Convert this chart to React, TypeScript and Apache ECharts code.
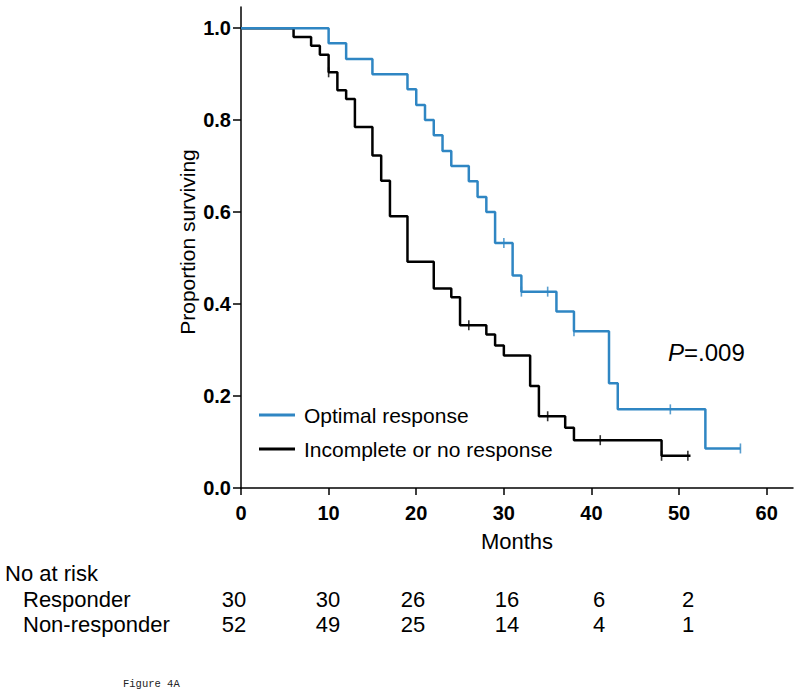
import React, { useEffect, useRef } from "react";
import * as echarts from "echarts";

// ---- Data ----
const optimalTimes = [0, 10, 12, 15, 19, 20, 21, 22, 23, 24, 26, 27, 28, 29, 31, 32, 36, 38, 42, 43, 53, 57];
const optimalSurv = [1, 0.967, 0.933, 0.9, 0.867, 0.833, 0.8, 0.767, 0.733, 0.7, 0.667, 0.633, 0.6, 0.533, 0.462, 0.427, 0.384, 0.341, 0.228, 0.171, 0.086, 0.086];
const optimalCensorTimes = [30, 32, 35, 38, 49, 57];
const optimalCensorSurv = [0.533, 0.427, 0.427, 0.341, 0.171, 0.086];

const incompleteTimes = [0, 6, 8, 9, 10, 11, 12, 13, 15, 16, 17, 19, 22, 24, 25, 28, 29, 30, 33, 34, 37, 38, 48, 51.3];
const incompleteSurv = [1, 0.981, 0.962, 0.942, 0.904, 0.865, 0.846, 0.785, 0.723, 0.668, 0.591, 0.492, 0.434, 0.415, 0.354, 0.334, 0.31, 0.288, 0.222, 0.156, 0.131, 0.104, 0.07, 0.07];
const incompleteCensorTimes = [10, 26, 35, 41, 48, 51];
const incompleteCensorSurv = [0.904, 0.354, 0.156, 0.104, 0.07, 0.07];

const xTicks = [0, 10, 20, 30, 40, 50, 60];
const yTicks = [0, 0.2, 0.4, 0.6, 0.8, 1.0];

const seriesNames = ["Optimal response", "Incomplete or no response"];
const atRiskRowLabels = ["Responder", "Non-responder"];
const atRiskResponder = [30, 30, 26, 16, 6, 2];
const atRiskNonResponder = [52, 49, 25, 14, 4, 1];

const BLUE = "#2f86c3";
const FONT = "'Liberation Sans', Arial, Helvetica, sans-serif";

export default function App() {
  const ref = useRef<HTMLDivElement>(null);

  useEffect(() => {
    if (!ref.current) return;
    const chart = echarts.init(ref.current, null, { renderer: "svg" });

    const pairs = (xs: number[], ys: number[]) => xs.map((x, i) => [x, ys[i]]);
    const colX = [234, 328, 413, 507, 599, 688];

    const graphic: any[] = [
      {
        type: "text",
        x: 187,
        y: 242,
        rotation: Math.PI / 2,
        style: {
          text: "Proportion surviving",
          font: `21px ${FONT}`,
          fill: "#000",
          align: "center",
          verticalAlign: "middle",
        },
      },
      {
        type: "text",
        x: 668,
        y: 352,
        style: {
          text: "{i|P}=.009",
          rich: {
            i: { fontStyle: "italic", fontSize: 24, fontFamily: FONT, fill: "#000" },
          },
          fontSize: 24,
          fontFamily: FONT,
          fill: "#000",
          align: "left",
          verticalAlign: "middle",
        },
      },
      {
        type: "text",
        x: 5,
        y: 573,
        style: { text: "No at risk", font: `22px ${FONT}`, fill: "#000", verticalAlign: "middle" },
      },
      {
        type: "text",
        x: 23,
        y: 599,
        style: { text: atRiskRowLabels[0], font: `22px ${FONT}`, fill: "#000", verticalAlign: "middle" },
      },
      {
        type: "text",
        x: 23,
        y: 624,
        style: { text: atRiskRowLabels[1], font: `22px ${FONT}`, fill: "#000", verticalAlign: "middle" },
      },
      {
        type: "text",
        x: 123,
        y: 684,
        style: { text: "Figure 4A", font: `10.5px 'Liberation Mono', 'Courier New', monospace`, fill: "#222", verticalAlign: "middle" },
      },
    ];
    atRiskResponder.forEach((v, i) => {
      graphic.push({
        type: "text",
        x: colX[i],
        y: 599,
        style: { text: String(v), font: `22px ${FONT}`, fill: "#000", align: "center", verticalAlign: "middle" },
      });
    });
    atRiskNonResponder.forEach((v, i) => {
      graphic.push({
        type: "text",
        x: colX[i],
        y: 624,
        style: { text: String(v), font: `22px ${FONT}`, fill: "#000", align: "center", verticalAlign: "middle" },
      });
    });

    chart.setOption({
      animation: false,
      backgroundColor: "#fff",
      grid: { left: 241, right: 7, top: 7, bottom: 207, containLabel: false },
      legend: {
        orient: "vertical",
        left: 259,
        top: 404,
        padding: 0,
        itemWidth: 36,
        itemHeight: 3,
        itemGap: 12,
        icon: "rect",
        data: seriesNames,
        textStyle: { fontSize: 21, lineHeight: 22, fontFamily: FONT, color: "#000", padding: [0, 0, 0, 4] },
      },
      xAxis: {
        type: "value",
        min: 0,
        max: 63,
        name: "Months",
        nameLocation: "middle",
        nameGap: 42,
        nameTextStyle: { fontSize: 22, fontFamily: FONT, color: "#000" },
        axisLine: { show: true, lineStyle: { color: "#000", width: 1.5 } },
        axisTick: { show: true, length: 7, lineStyle: { color: "#000", width: 1.5 }, customValues: xTicks },
        axisLabel: {
          customValues: xTicks,
          fontSize: 20,
          fontWeight: "bold",
          fontFamily: FONT,
          color: "#000",
          margin: 15,
        },
        splitLine: { show: false },
      },
      yAxis: {
        type: "value",
        min: 0,
        max: 1.046,
        axisLine: { show: true, lineStyle: { color: "#000", width: 1.5 } },
        axisTick: { show: true, length: 8, lineStyle: { color: "#000", width: 1.5 }, customValues: yTicks },
        axisLabel: {
          customValues: yTicks,
          formatter: (v: number) => v.toFixed(1),
          fontSize: 20,
          fontWeight: "bold",
          fontFamily: FONT,
          color: "#000",
          margin: 10,
        },
        splitLine: { show: false },
      },
      graphic,
      series: [
        {
          name: seriesNames[0],
          type: "line",
          step: "end",
          data: pairs(optimalTimes, optimalSurv),
          showSymbol: false,
          symbol: "none",
          color: BLUE,
          lineStyle: { color: BLUE, width: 2.5 },
          z: 3,
        },
        {
          name: seriesNames[1],
          type: "line",
          step: "end",
          data: pairs(incompleteTimes, incompleteSurv),
          showSymbol: false,
          symbol: "none",
          color: "#000",
          lineStyle: { color: "#000", width: 2.5 },
          z: 2,
        },
        {
          type: "scatter",
          data: pairs(optimalCensorTimes, optimalCensorSurv),
          symbol: "rect",
          symbolSize: [1.6, 10],
          itemStyle: { color: BLUE },
          z: 4,
        },
        {
          type: "scatter",
          data: pairs(incompleteCensorTimes, incompleteCensorSurv),
          symbol: "rect",
          symbolSize: [1.6, 10],
          itemStyle: { color: "#000" },
          z: 4,
        },
      ],
    });

    return () => chart.dispose();
  }, []);

  return (
    <div
      ref={ref}
      style={{ position: "fixed", left: 0, top: 0, width: 800, height: 695, background: "#fff" }}
    />
  );
}
